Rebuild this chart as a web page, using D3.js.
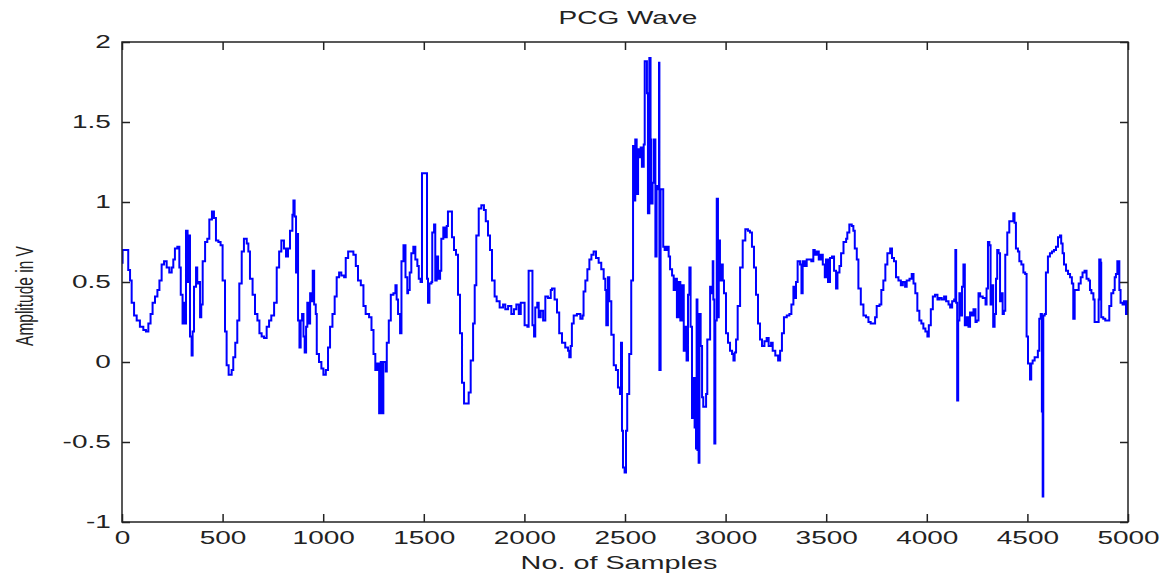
<!DOCTYPE html>
<html>
<head>
<meta charset="utf-8">
<script src="https://cdn.jsdelivr.net/npm/d3@7"></script>
<style>
  body { margin: 0; background: #fff; }
  text { font-family: Arial, "Liberation Sans", sans-serif; fill: #222; }
</style>
</head>
<body>
<svg width="1168" height="576"></svg>
<script>
// Sample index of each step corner
let samples = [
  0, 3, 26, 31, 40, 48, 60, 73, 89, 106, 119, 131, 142, 152, 164, 176, 186, 197, 209, 222,
  235, 247, 255, 263, 275, 285, 292, 301, 308, 313, 318, 326, 331, 338, 346, 351, 358, 368, 374, 381,
  388, 394, 401, 413, 424, 434, 447, 457, 467, 479, 490, 500, 512, 520, 530, 545, 553, 563, 573, 583,
  595, 606, 620, 628, 636, 649, 661, 673, 683, 694, 706, 719, 731, 742, 756, 769, 781, 792, 805, 815,
  825, 835, 847, 852, 858, 865, 872, 875, 882, 888, 895, 902, 908, 915, 921, 930, 935, 941, 948, 955,
  963, 968, 979, 991, 1001, 1013, 1024, 1034, 1046, 1057, 1067, 1079, 1090, 1104, 1112, 1124, 1137, 1150, 1162, 1173,
  1187, 1200, 1211, 1228, 1240, 1250, 1259, 1269, 1278, 1286, 1291, 1299, 1311, 1316, 1326, 1336, 1349, 1359, 1365, 1372,
  1382, 1389, 1399, 1409, 1418, 1422, 1430, 1438, 1448, 1458, 1468, 1475, 1484, 1491, 1513, 1516, 1521, 1528, 1538, 1542,
  1551, 1557, 1564, 1571, 1581, 1587, 1597, 1607, 1614, 1620, 1634, 1640, 1650, 1660, 1670, 1680, 1690, 1700, 1716, 1723,
  1733, 1745, 1753, 1761, 1773, 1786, 1799, 1808, 1819, 1829, 1839, 1852, 1862, 1877, 1894, 1905, 1919, 1935, 1948, 1960,
  1972, 1982, 1993, 2001, 2015, 2021, 2031, 2040, 2048, 2054, 2064, 2071, 2081, 2093, 2104, 2117, 2131, 2137, 2150, 2162,
  2173, 2187, 2203, 2217, 2223, 2230, 2236, 2245, 2261, 2278, 2289, 2294, 2303, 2313, 2323, 2333, 2344, 2356, 2369, 2382,
  2394, 2402, 2407, 2415, 2422, 2432, 2444, 2455, 2465, 2475, 2480, 2485, 2490, 2498, 2505, 2511, 2521, 2531, 2540, 2545,
  2551, 2558, 2565, 2571, 2578, 2584, 2593, 2598, 2604, 2609, 2614, 2621, 2627, 2631, 2637, 2644, 2651, 2657, 2664, 2669,
  2671, 2677, 2684, 2690, 2697, 2707, 2717, 2724, 2734, 2742, 2750, 2758, 2767, 2775, 2783, 2792, 2800, 2806, 2813, 2820,
  2826, 2833, 2840, 2846, 2853, 2856, 2860, 2866, 2870, 2876, 2883, 2889, 2896, 2903, 2909, 2919, 2923, 2929, 2936, 2939,
  2944, 2949, 2956, 2962, 2966, 2972, 2979, 2986, 2992, 3002, 3012, 3022, 3032, 3039, 3045, 3052, 3060, 3072, 3085, 3098,
  3111, 3121, 3131, 3141, 3151, 3161, 3171, 3181, 3193, 3204, 3214, 3226, 3234, 3247, 3261, 3271, 3280, 3290, 3304, 3317,
  3327, 3337, 3343, 3350, 3358, 3370, 3377, 3383, 3393, 3403, 3416, 3426, 3436, 3443, 3453, 3463, 3473, 3483, 3493, 3499,
  3509, 3519, 3529, 3539, 3549, 3556, 3566, 3574, 3586, 3599, 3605, 3615, 3627, 3635, 3642, 3652, 3660, 3672, 3685, 3698,
  3710, 3721, 3735, 3743, 3751, 3765, 3774, 3784, 3794, 3804, 3818, 3827, 3837, 3847, 3859, 3871, 3881, 3892, 3900, 3914,
  3925, 3934, 3943, 3953, 3963, 3973, 3983, 3993, 4003, 4010, 4020, 4030, 4041, 4053, 4063, 4074, 4086, 4096, 4108, 4116,
  4126, 4136, 4142, 4146, 4151, 4156, 4162, 4169, 4175, 4182, 4189, 4199, 4207, 4215, 4225, 4232, 4242, 4248, 4257, 4265,
  4278, 4284, 4292, 4297, 4304, 4311, 4317, 4324, 4330, 4337, 4344, 4350, 4357, 4364, 4370, 4377, 4383, 4390, 4400, 4410,
  4420, 4430, 4436, 4443, 4453, 4460, 4470, 4480, 4489, 4496, 4503, 4513, 4519, 4526, 4536, 4546, 4552, 4559, 4566, 4572,
  4576, 4579, 4586, 4592, 4602, 4612, 4622, 4632, 4642, 4652, 4662, 4668, 4675, 4682, 4692, 4702, 4712, 4721, 4728, 4735,
  4745, 4755, 4765, 4774, 4784, 4794, 4804, 4811, 4818, 4828, 4834, 4847, 4854, 4857, 4864, 4867, 4877, 4887, 4897, 4907,
  4917, 4927, 4934, 4940, 4947, 4953, 4957, 4963, 4973, 4980, 4990, 4997, 5000
];

// Amplitude (V) at each of those samples
let amplitude = [
  0.62, 0.70, 0.70, 0.575, 0.51, 0.37, 0.29, 0.26, 0.22, 0.20, 0.19, 0.24, 0.30, 0.37, 0.41, 0.45, 0.51, 0.61, 0.63, 0.59,
  0.56, 0.59, 0.64, 0.71, 0.72, 0.59, 0.42, 0.24, 0.37, 0.24, 0.82, 0.50, 0.79, 0.16, 0.04, 0.19, 0.47, 0.59, 0.49, 0.50,
  0.28, 0.36, 0.63, 0.75, 0.77, 0.89, 0.94, 0.90, 0.76, 0.75, 0.73, 0.51, 0.19, -0.02, -0.08, -0.05, 0.03, 0.12, 0.26, 0.49,
  0.69, 0.77, 0.74, 0.69, 0.52, 0.42, 0.30, 0.26, 0.18, 0.16, 0.15, 0.22, 0.26, 0.29, 0.37, 0.59, 0.69, 0.76, 0.71, 0.66,
  0.71, 0.82, 0.92, 1.01, 0.91, 0.56, 0.80, 0.26, 0.09, 0.26, 0.30, 0.16, 0.06, 0.22, 0.37, 0.24, 0.43, 0.38, 0.57, 0.36,
  0.30, 0.05, 0.00, -0.04, -0.08, -0.05, 0.09, 0.22, 0.30, 0.41, 0.53, 0.56, 0.54, 0.53, 0.65, 0.69, 0.69, 0.67, 0.60, 0.51,
  0.48, 0.35, 0.30, 0.28, 0.20, 0.05, -0.05, -0.01, -0.32, 0.00, -0.32, 0.00, -0.06, 0.12, 0.26, 0.42, 0.43, 0.48, 0.39, 0.30,
  0.18, 0.63, 0.73, 0.53, 0.43, 0.45, 0.56, 0.68, 0.72, 0.64, 0.60, 0.52, 0.50, 1.18, 1.18, 0.52, 0.37, 0.49, 0.50, 0.81,
  0.86, 0.51, 0.66, 0.52, 0.57, 0.77, 0.84, 0.78, 0.85, 0.94, 0.94, 0.78, 0.70, 0.67, 0.42, 0.18, -0.13, -0.26, -0.26, -0.19,
  0.01, 0.24, 0.48, 0.79, 0.96, 0.98, 0.95, 0.88, 0.79, 0.70, 0.51, 0.41, 0.38, 0.34, 0.36, 0.33, 0.35, 0.30, 0.33, 0.36,
  0.30, 0.37, 0.37, 0.23, 0.22, 0.57, 0.57, 0.23, 0.16, 0.34, 0.37, 0.28, 0.32, 0.26, 0.41, 0.40, 0.45, 0.46, 0.39, 0.31,
  0.18, 0.12, 0.09, 0.07, 0.03, 0.10, 0.24, 0.29, 0.30, 0.27, 0.29, 0.44, 0.51, 0.58, 0.64, 0.67, 0.69, 0.65, 0.62, 0.58,
  0.52, 0.45, 0.23, 0.53, 0.38, 0.17, -0.02, -0.05, -0.16, -0.20, 0.12, -0.43, -0.66, -0.69, -0.43, -0.20, 0.05, 0.51, 1.35, 1.01,
  1.39, 1.05, 1.33, 1.28, 1.34, 1.22, 1.36, 1.88, 1.88, 1.68, 0.93, 1.90, 1.39, 0.99, 1.12, 1.39, 0.66, 1.10, 1.08, 1.87,
  -0.05, 1.08, 1.08, 0.72, 0.70, 0.72, 0.66, 0.58, 0.54, 0.45, 0.52, 0.28, 0.50, 0.26, 0.48, 0.07, 0.22, 0.01, 0.42, 0.59,
  0.22, -0.35, -0.10, -0.41, -0.54, 0.39, -0.55, -0.63, 0.30, 0.10, -0.22, -0.28, -0.28, -0.20, 0.14, 0.14, 0.47, 0.43, 0.63, 0.39,
  -0.51, 0.26, 1.02, 0.28, 0.76, 0.51, 0.61, 0.51, 0.43, 0.18, 0.12, 0.07, 0.05, 0.01, 0.06, 0.14, 0.35, 0.59, 0.76, 0.83,
  0.82, 0.81, 0.72, 0.59, 0.42, 0.24, 0.14, 0.10, 0.13, 0.15, 0.10, 0.12, 0.07, 0.04, 0.01, 0.07, 0.18, 0.28, 0.29, 0.30,
  0.36, 0.47, 0.40, 0.50, 0.63, 0.61, 0.43, 0.63, 0.60, 0.64, 0.64, 0.63, 0.70, 0.67, 0.69, 0.64, 0.67, 0.61, 0.53, 0.64,
  0.50, 0.65, 0.66, 0.57, 0.46, 0.56, 0.60, 0.68, 0.75, 0.77, 0.81, 0.86, 0.85, 0.82, 0.71, 0.64, 0.46, 0.36, 0.29, 0.28,
  0.25, 0.24, 0.24, 0.28, 0.35, 0.36, 0.45, 0.51, 0.61, 0.68, 0.71, 0.65, 0.63, 0.53, 0.51, 0.48, 0.50, 0.47, 0.51, 0.52,
  0.55, 0.49, 0.43, 0.32, 0.26, 0.24, 0.21, 0.19, 0.16, 0.23, 0.33, 0.41, 0.42, 0.39, 0.40, 0.39, 0.41, 0.38, 0.36, 0.34,
  0.38, 0.39, 0.70, 0.37, -0.24, 0.26, 0.43, 0.29, 0.47, 0.61, 0.23, 0.28, 0.22, 0.31, 0.29, 0.33, 0.25, 0.26, 0.43, 0.41,
  0.40, 0.40, 0.36, 0.46, 0.75, 0.73, 0.36, 0.48, 0.22, 0.30, 0.52, 0.70, 0.68, 0.38, 0.43, 0.30, 0.32, 0.67, 0.81, 0.88,
  0.88, 0.93, 0.87, 0.71, 0.69, 0.63, 0.61, 0.56, 0.55, 0.16, -0.01, -0.11, -0.01, 0.01, 0.03, 0.03, 0.07, 0.27, 0.30, -0.31,
  -0.84, 0.29, 0.30, 0.56, 0.66, 0.68, 0.69, 0.70, 0.72, 0.78, 0.79, 0.74, 0.68, 0.61, 0.57, 0.55, 0.53, 0.49, 0.27, 0.45,
  0.45, 0.49, 0.53, 0.56, 0.57, 0.52, 0.51, 0.45, 0.43, 0.39, 0.25, 0.25, 0.39, 0.64, 0.62, 0.28, 0.27, 0.26, 0.26, 0.35,
  0.43, 0.45, 0.53, 0.55, 0.63, 0.63, 0.45, 0.37, 0.36, 0.38, 0.30, 0.38, 0.33
];

let xTicks = [0, 500, 1000, 1500, 2000, 2500, 3000, 3500, 4000, 4500, 5000];
let yTicks = [-1, -0.5, 0, 0.5, 1, 1.5, 2];

let points = samples.map(function(s, i) { return { s: s, v: amplitude[i] }; });

// Plot box and scales
const plotLeft = 122, plotRight = 1128, plotTop = 42, plotBottom = 522;
const stretch = 1.6; // the picture's text is stretched sideways

const svg = d3.select("svg");

let x = d3.scaleLinear().domain([0, 5000]).range([plotLeft, plotRight]);
let y = d3.scaleLinear().domain([-1, 2]).range([plotBottom, plotTop]);

// The signal
svg.append("clipPath").attr("id", "plot")
    .append("rect")
    .attr("x", plotLeft).attr("y", plotTop)
    .attr("width", plotRight - plotLeft).attr("height", plotBottom - plotTop);

let line = d3.line()
    .x(function(d) { return x(d.s); })
    .y(function(d) { return y(d.v); })
    .curve(d3.curveStepAfter);

svg.append("path")
    .datum(points)
    .attr("clip-path", "url(#plot)")
    .attr("fill", "none")
    .attr("stroke", "#0000ff")
    .attr("stroke-width", 2)
    .attr("d", line);

// Axes with inward ticks on all four sides
function styleAxis(g) {
    g.select(".domain").remove();
    g.selectAll(".tick line").attr("stroke", "#222").attr("stroke-width", 1.5);
    g.selectAll("text").attr("font-size", 17.5).attr("fill", "#222");
}

svg.append("g")
    .attr("transform", "translate(0," + plotBottom + ")")
    .call(d3.axisBottom(x).tickValues(xTicks).tickSizeInner(-8).tickSizeOuter(0).tickPadding(10)
        .tickFormat(function(d) { return String(d); }))
    .call(styleAxis)
    .selectAll("text")
    .attr("transform", "scale(" + stretch + ",1)");

svg.append("g")
    .attr("transform", "translate(0," + plotTop + ")")
    .call(d3.axisTop(x).tickValues(xTicks).tickSizeInner(-8).tickSizeOuter(0).tickFormat(""))
    .call(styleAxis);

svg.append("g")
    .attr("transform", "translate(" + plotLeft + ",0)")
    .call(d3.axisLeft(y).tickValues(yTicks).tickSizeInner(-8).tickSizeOuter(0)
        .tickFormat(function(d) { return String(d); }))
    .call(styleAxis)
    .selectAll("text")
    .attr("x", -7)
    .attr("transform", "scale(" + stretch + ",1)");

svg.append("g")
    .attr("transform", "translate(" + plotRight + ",0)")
    .call(d3.axisRight(y).tickValues(yTicks).tickSizeInner(-8).tickSizeOuter(0).tickFormat(""))
    .call(styleAxis);

// Frame
svg.append("rect")
    .attr("x", plotLeft).attr("y", plotTop)
    .attr("width", plotRight - plotLeft).attr("height", plotBottom - plotTop)
    .attr("fill", "none")
    .attr("stroke", "#222")
    .attr("stroke-width", 1.5);

// Title and axis labels
svg.append("text")
    .attr("transform", "translate(" + ((plotLeft + plotRight) / 2 + 3) + ",24) scale(" + stretch + ",1)")
    .attr("text-anchor", "middle")
    .attr("font-size", 17.5)
    .text("PCG Wave");

svg.append("text")
    .attr("transform", "translate(" + ((plotLeft + plotRight) / 2 - 6) + ",569) scale(" + stretch + ",1)")
    .attr("text-anchor", "middle")
    .attr("font-size", 18)
    .text("No. of Samples");

svg.append("text")
    .attr("transform", "translate(33,296) scale(" + stretch + ",1) rotate(-90)")
    .attr("text-anchor", "middle")
    .attr("font-size", 15.5)
    .text("Amplitude in V");
</script>
</body>
</html>
